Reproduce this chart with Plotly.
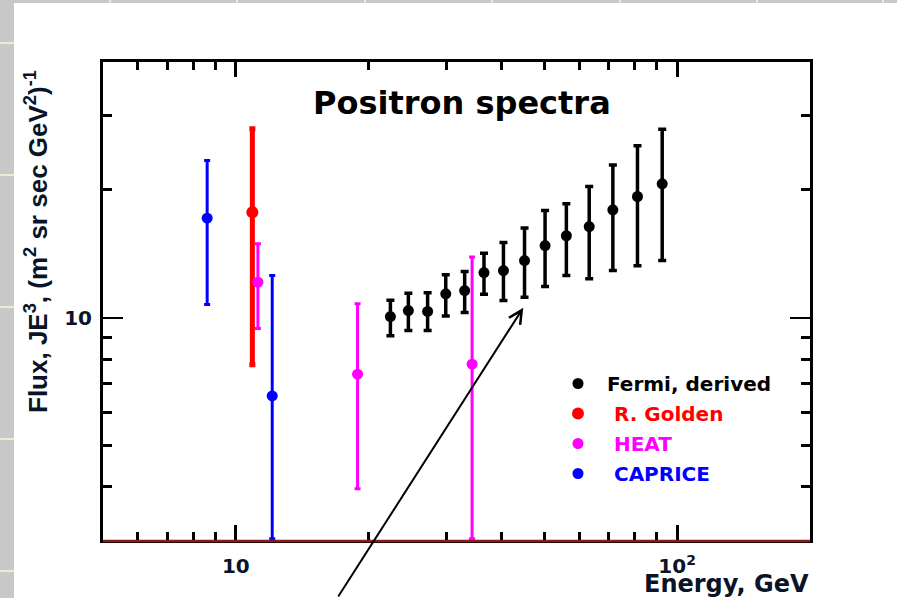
import numpy as np
import plotly.graph_objects as go

# ---------------- data ----------------
fermi_E = [22.4, 24.6, 27.2, 29.9, 33.0, 36.5, 40.4, 45.1, 50.2, 56.1, 63.2, 71.5, 81.3, 92.5]
fermi_F = [10.07, 10.4, 10.35, 11.39, 11.59, 12.78, 12.92, 13.64, 14.79, 15.6, 16.4, 17.95, 19.3, 20.67]
fermi_hi = [11.0, 11.43, 11.45, 12.63, 12.85, 14.18, 15.04, 16.26, 17.89, 18.55, 20.37, 22.9, 25.4, 27.8]
fermi_lo = [9.07, 9.33, 9.33, 10.1, 10.29, 11.36, 10.98, 11.18, 11.85, 12.57, 12.35, 12.92, 13.26, 13.64]

golden_E = [10.9]
golden_F = [17.73]
golden_hi = [27.85]
golden_lo = [7.75]

heat_E = [11.22, 18.87, 34.3]
heat_F = [12.13, 7.37, 7.78]
heat_hi = [14.93, 10.79, 13.9]
heat_lo = [9.44, 3.96, 3.02]

caprice_E = [8.61, 12.09]
caprice_F = [17.16, 6.55]
caprice_hi = [23.44, 12.57]
caprice_lo = [10.75, 3.02]

x_major = [10, 100]
x_major_text = ["10", "10<sup>2</sup>"]
x_minor = [6, 7, 8, 9, 20, 30, 40, 50, 60, 70, 80, 90]
y_major = [10]
y_major_text = ["10"]
y_minor = [4, 5, 6, 7, 8, 9, 20, 30]
x_range = [5, 200]
y_range = [3, 40]

arrow_head = (44.8, 10.56)

series = [
    ("Fermi, derived", "Fermi, derived", fermi_E, fermi_F, fermi_hi, fermi_lo, "black", 11, 3.5, 4),
    ("R. Golden", "&nbsp;R. Golden", golden_E, golden_F, golden_hi, golden_lo, "#ff0000", 12, 5, 3),
    ("HEAT", "&nbsp;HEAT", heat_E, heat_F, heat_hi, heat_lo, "#ff00ff", 11, 3, 3),
    ("CAPRICE", "&nbsp;CAPRICE", caprice_E, caprice_F, caprice_hi, caprice_lo, "#0000ff", 11, 3, 3),
]

BOLD = "DejaVu Sans"

fig = go.Figure()
for i, (key, label, E, F, hi, lo, col, msize, thick, capw) in enumerate(series):
    F_ = np.array(F)
    fig.add_trace(go.Scatter(
        x=E, y=F, mode="markers", name=f'<span style="color:{col}">{label}</span>',
        legendgroup=key,
        marker=dict(color=col, size=msize, symbol="circle"),
        error_y=dict(type="data", symmetric=False,
                     array=list(np.array(hi) - F_), arrayminus=list(F_ - np.array(lo)),
                     color=col, thickness=thick, width=capw),
        cliponaxis=True,
    ))

W, H = 897, 598
L, R, T, B = 103, 87, 62, 58
pw, ph = W - L - R, H - T - B

def px(xp):
    return (xp - L) / pw

def py(yp):
    return (H - B - yp) / ph

shapes = [
    dict(type="rect", xref="paper", yref="paper", x0=px(14), x1=px(W + 10), y0=py(H + 10), y1=py(3),
         fillcolor="white", line=dict(width=0), layer="below"),
]
for yy in [43, 175, 307, 439, 571]:
    shapes.append(dict(type="line", xref="paper", yref="paper", x0=px(0), x1=px(14), y0=py(yy), y1=py(yy),
                       line=dict(color="#ecebd2", width=2), layer="below"))
for xx in [110, 237, 365, 492, 620, 757, 883]:
    shapes.append(dict(type="line", xref="paper", yref="paper", x0=px(xx), x1=px(xx), y0=py(0), y1=py(3),
                       line=dict(color="#ecebd2", width=2), layer="below"))
# dark red bottom frame line (drawn over the black axis line)
shapes.append(dict(type="line", xref="paper", yref="paper", x0=0, x1=1, y0=py(541), y1=py(541),
                   line=dict(color="#8b1a1a", width=2.5), layer="above"))

fig.update_layout(
    width=W, height=H,
    margin=dict(l=L, r=R, t=T, b=B),
    paper_bgcolor="#c8c8c8",
    plot_bgcolor="rgba(0,0,0,0)",
    showlegend=True,
    legend=dict(x=px(549), y=py(364), xanchor="left", yanchor="top",
                bgcolor="rgba(0,0,0,0)", borderwidth=0,
                font=dict(family=BOLD, size=20, weight="bold"),
                itemwidth=48, tracegroupgap=1, traceorder="grouped"),
    shapes=shapes,
    xaxis=dict(type="log", range=[np.log10(x_range[0]), np.log10(x_range[1])],
               tickmode="array", tickvals=x_major, ticktext=x_major_text,
               ticks="inside", ticklen=15, tickwidth=2.5, tickcolor="black",
               showline=True, linecolor="black", linewidth=3, mirror="ticks",
               showgrid=False, zeroline=False,
               tickfont=dict(family=BOLD, size=20, color="#0a1428", weight="bold"),
               ticklabelstandoff=6,
               minor=dict(tickmode="array", tickvals=x_minor, ticks="inside", ticklen=8,
                          tickwidth=3, tickcolor="black", showgrid=False)),
    yaxis=dict(type="log", range=[np.log10(y_range[0]), np.log10(y_range[1])],
               tickmode="array", tickvals=y_major, ticktext=y_major_text,
               ticks="inside", ticklen=20, tickwidth=1.5, tickcolor="black",
               showline=True, linecolor="black", linewidth=3, mirror="ticks",
               showgrid=False, zeroline=False,
               tickfont=dict(family=BOLD, size=20, color="#0a1428", weight="bold"),
               ticklabelstandoff=4,
               minor=dict(tickmode="array", tickvals=y_minor, ticks="inside", ticklen=9,
                          tickwidth=3, tickcolor="black", showgrid=False)),
    annotations=[
        dict(text="<b>Positron spectra</b>", xref="paper", yref="paper", x=px(462), y=py(103),
             xanchor="center", yanchor="middle", showarrow=False,
             font=dict(family=BOLD, size=32, color="black")),
        dict(text="<b>Energy, GeV</b>", xref="paper", yref="paper", x=px(811), y=py(584),
             xanchor="right", yanchor="middle", showarrow=False,
             font=dict(family=BOLD, size=24, color="#0a1428")),
        dict(text="<b>Flux, JE<sup>3</sup>, (m<sup>2</sup> sr sec GeV<sup>2</sup>)<sup>-1</sup></b>",
             xref="paper", yref="paper", x=px(36), y=py(242), textangle=-90,
             xanchor="center", yanchor="middle", showarrow=False,
             font=dict(family="Liberation Sans, Arial", size=26, color="#0a1428")),
        dict(text="", x=np.log10(arrow_head[0]), y=np.log10(arrow_head[1]), xref="x", yref="y",
             showarrow=True, ax=-186, ay=296, arrowhead=5, arrowsize=1.3, arrowwidth=2,
             arrowcolor="black", standoff=0),
    ],
)

fig.write_html("out.html")
